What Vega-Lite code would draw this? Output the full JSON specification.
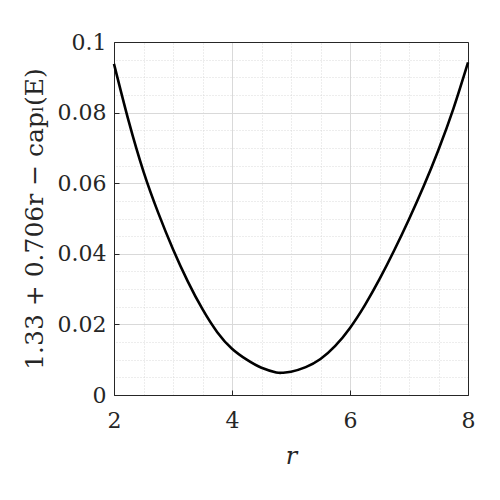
{
  "$schema": "https://vega.github.io/schema/vega-lite/v6.json",
  "width": 354,
  "height": 353,
  "autosize": "none",
  "padding": {"left": 114, "top": 42, "right": 32, "bottom": 105},
  "background": "white",
  "config": {
    "view": {"stroke": "#262626", "strokeWidth": 1},
    "font": "DejaVu Serif"
  },
  "data": {
    "values": [
      {"r": 2.0, "v": 0.0938},
      {"r": 2.25, "v": 0.0775},
      {"r": 2.5, "v": 0.0633},
      {"r": 2.75, "v": 0.0516},
      {"r": 3.0, "v": 0.0413},
      {"r": 3.25, "v": 0.0322},
      {"r": 3.5, "v": 0.0243},
      {"r": 3.75, "v": 0.0178},
      {"r": 4.0, "v": 0.0131},
      {"r": 4.25, "v": 0.0100},
      {"r": 4.5, "v": 0.0077},
      {"r": 4.75, "v": 0.0064},
      {"r": 4.85, "v": 0.0063},
      {"r": 5.0, "v": 0.0066},
      {"r": 5.25, "v": 0.0079},
      {"r": 5.5, "v": 0.0102},
      {"r": 5.75, "v": 0.0139},
      {"r": 6.0, "v": 0.0190},
      {"r": 6.25, "v": 0.0254},
      {"r": 6.5, "v": 0.0328},
      {"r": 6.75, "v": 0.0410},
      {"r": 7.0, "v": 0.0498},
      {"r": 7.25, "v": 0.0592},
      {"r": 7.5, "v": 0.0695},
      {"r": 7.75, "v": 0.0810},
      {"r": 8.0, "v": 0.0942}
    ]
  },
  "resolve": {"axis": {"x": "independent", "y": "independent"}},
  "layer": [
    {
      "mark": {"type": "line", "strokeOpacity": 0},
      "encoding": {
        "x": {"field": "r", "type": "quantitative", "scale": {"domain": [2, 8], "nice": false, "zero": false},
          "axis": {"orient": "top", "values": [2.5, 3, 3.5, 4.5, 5, 5.5, 6.5, 7, 7.5], "grid": true, "gridColor": "#d0d0d0", "gridDash": [1, 2], "gridWidth": 0.8, "labels": false, "ticks": false, "domain": true, "domainColor": "#262626", "domainWidth": 1, "title": null}},
        "y": {"field": "v", "type": "quantitative", "scale": {"domain": [0, 0.1], "nice": false, "zero": false},
          "axis": {"orient": "right", "values": [0.005, 0.01, 0.015, 0.025, 0.03, 0.035, 0.045, 0.05, 0.055, 0.065, 0.07, 0.075, 0.085, 0.09, 0.095], "grid": true, "gridColor": "#d0d0d0", "gridDash": [1, 2], "gridWidth": 0.8, "labels": false, "ticks": false, "domain": true, "domainColor": "#262626", "domainWidth": 1, "title": null}}
      }
    },
    {
      "mark": {"type": "line", "color": "black", "strokeWidth": 2.6, "interpolate": "natural"},
      "encoding": {
        "x": {"field": "r", "type": "quantitative", "scale": {"domain": [2, 8], "nice": false, "zero": false},
          "axis": {"orient": "bottom", "values": [2, 4, 6, 8], "grid": true, "gridColor": "#d9d9d9", "gridWidth": 1, "domain": true, "domainColor": "#262626", "domainWidth": 1, "ticks": true, "tickSize": -5, "tickColor": "#262626", "labelFont": "DejaVu Serif", "labelFontSize": 22, "labelColor": "#262626", "labelPadding": 20, "labelFlush": false, "title": "r", "titleFont": "DejaVu Serif", "titleFontStyle": "italic", "titleFontWeight": "normal", "titleFontSize": 24, "titleColor": "#262626", "titlePadding": 13}},
        "y": {"field": "v", "type": "quantitative", "scale": {"domain": [0, 0.1], "nice": false, "zero": false},
          "axis": {"orient": "left", "values": [0, 0.02, 0.04, 0.06, 0.08, 0.1], "format": "~g", "grid": true, "gridColor": "#d9d9d9", "gridWidth": 1, "domain": true, "domainColor": "#262626", "domainWidth": 1, "ticks": true, "tickSize": -5, "tickColor": "#262626", "labelFont": "DejaVu Serif", "labelFontSize": 22, "labelColor": "#262626", "labelPadding": 13, "labelFlush": false, "title": "1.33 + 0.706r − capₗ(E)", "titleFont": "DejaVu Serif", "titleFontWeight": "normal", "titleFontSize": 25, "titleColor": "#262626", "titlePadding": 10}}
      }
    }
  ]
}
